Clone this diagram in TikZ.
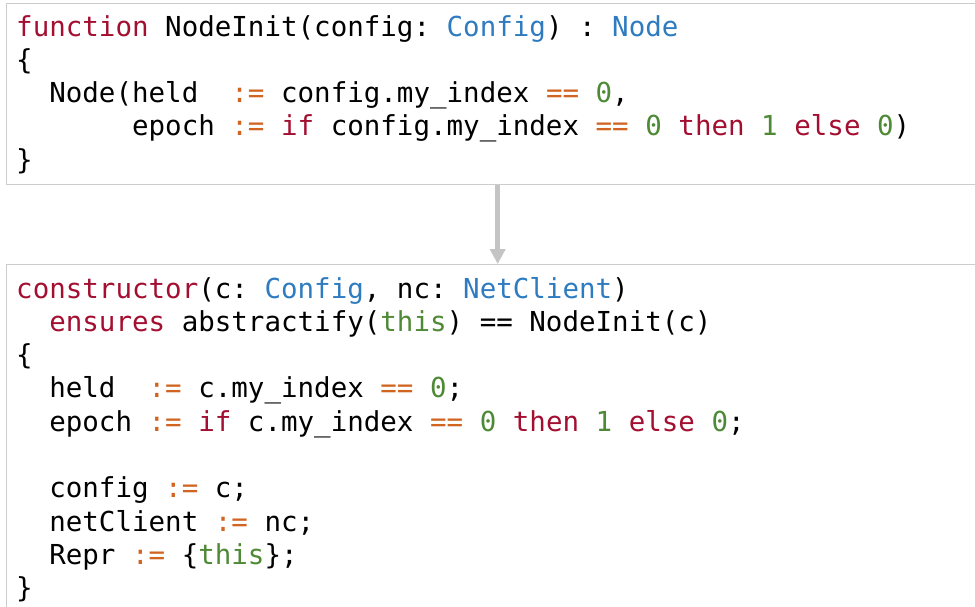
\documentclass[tikz,border=0pt]{standalone}
\usepackage{fontspec}
\setmonofont{DejaVu Sans Mono}
\usetikzlibrary{arrows.meta}

\definecolor{kwred}{HTML}{A30F30}
\definecolor{tyblue}{HTML}{2E7BC0}
\definecolor{oporange}{HTML}{D06420}
\definecolor{litgreen}{HTML}{4E8A36}
\definecolor{framegray}{HTML}{CCCCCC}
\definecolor{arrowgray}{HTML}{C4C4C4}

\newcommand{\kwd}[1]{\textcolor{kwred}{#1}}
\newcommand{\typ}[1]{\textcolor{tyblue}{#1}}
\newcommand{\opr}[1]{\textcolor{oporange}{#1}}
\newcommand{\lit}[1]{\textcolor{litgreen}{#1}}

\tikzset{
  codebox/.style={draw=framegray,line width=1.4pt,minimum width=982pt,anchor=north west,inner sep=0pt},
  code/.style={anchor=base west,inner sep=0pt,align=left,font=\fontsize{27.5}{33.3}\selectfont\ttfamily},
}

\begin{document}
\begin{tikzpicture}[x=1pt,y=-1pt]
    \useasboundingbox (0,0) rectangle (975,607);
    \clip (0,0) rectangle (975,607);
    \node[codebox,minimum height=181pt] (initbox) at (6,3) {};
    \node[codebox,minimum height=380pt] (ctorbox) at (6,264) {};
    % base of a multi-line node sits on its last line
    \node[code] (init) at (16,169.2) {\kwd{function} NodeInit(config: \typ{Config}) : \typ{Node}\\
        \{\\
        ~~Node(held~~\opr{:=} config.my\_index \opr{==} \lit{0},\\
        ~~~~~~~epoch \opr{:=} \kwd{if} config.my\_index \opr{==} \lit{0} \kwd{then} \lit{1} \kwd{else} \lit{0})\\
        \}};
    \node[code] (ctor) at (16,597.7) {\kwd{constructor}(c: \typ{Config}, nc: \typ{NetClient})\\
        ~~\kwd{ensures} abstractify(\lit{this}) == NodeInit(c)\\
        \{\\
        ~~held~~\opr{:=} c.my\_index \opr{==} \lit{0};\\
        ~~epoch \opr{:=} \kwd{if} c.my\_index \opr{==} \lit{0} \kwd{then} \lit{1} \kwd{else} \lit{0};\\
        \mbox{}\\
        ~~config \opr{:=} c;\\
        ~~netClient \opr{:=} nc;\\
        ~~Repr \opr{:=} \{\lit{this}\};\\
        \}};
    \draw[arrowgray,line width=5pt,-{Triangle[width=15pt,length=15pt]}] (initbox.south) -- (ctorbox.north);
\end{tikzpicture}
\end{document}
